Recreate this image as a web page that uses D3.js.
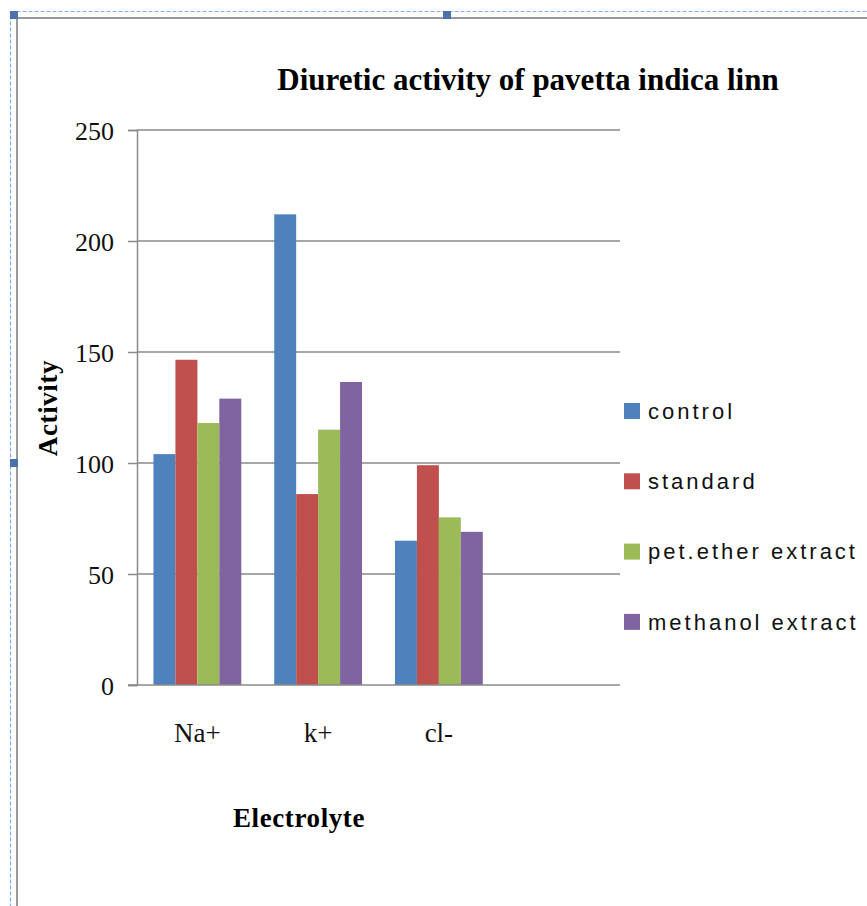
<!DOCTYPE html>
<html>
<head>
<meta charset="utf-8">
<script src="https://cdn.jsdelivr.net/npm/d3@7"></script>
<style>
  html, body { margin: 0; padding: 0; background: #fff; }
  svg { display: block; }
</style>
</head>
<body>
<div id="canvas"></div>
<script>
/*
Chart data */
var categories = ["Na+", "k+", "cl-"];
var series_names = ["control", "standard", "pet.ether extract", "methanol extract"];
var control = [104, 212, 65];
var standard = [146.5, 86, 99];
var pet_ether = [118, 115, 75.5];
var methanol = [129, 136.5, 69];
var y_ticks = [0, 50, 100, 150, 200, 250];

var colors = ["#4F81BD", "#C0504D", "#9BBB59", "#8064A2"];

function draw_chart() {
    var W = 867, H = 906;
    var m_left = 137, m_right = 620, m_top = 130, m_bottom = 685;

    var svg = d3.select("#canvas").append("svg")
        .attr("width", W).attr("height", H);

    // selection frame around the chart object
    svg.append("rect")
        .attr("x", 10.5).attr("y", 11.5).attr("width", W + 20).attr("height", H + 20)
        .attr("fill", "none").attr("stroke", "#82aef0").attr("stroke-width", 1.2)
        .attr("stroke-dasharray", "4,2");
    svg.append("rect")
        .attr("x", 17).attr("y", 18).attr("width", W + 20).attr("height", H + 20)
        .attr("fill", "none").attr("stroke", "#999").attr("stroke-width", 2);
    [[14, 15], [447, 15], [14, 463]].forEach(function(p) {
        svg.append("rect").attr("x", p[0] - 4).attr("y", p[1] - 4)
            .attr("width", 8).attr("height", 8).attr("fill", "#4a73ad");
    });

    // one spare empty slot on the right, like the original
    var x0 = d3.scaleBand().domain(categories.concat([" "])).range([m_left, m_right]);
    var x1 = d3.scaleBand().domain(series_names).range([0, x0.bandwidth()])
        .paddingInner(0).paddingOuter(0.75);
    var y = d3.scaleLinear().domain([0, 250]).range([m_bottom, m_top]);

    // gridlines
    svg.append("g").selectAll("line").data(y_ticks.slice(1)).join("line")
        .attr("x1", m_left).attr("x2", m_right)
        .attr("y1", function(d) { return y(d); }).attr("y2", function(d) { return y(d); })
        .attr("stroke", "#8a8a8a").attr("stroke-width", 1.5);

    // bars
    var table = [control, standard, pet_ether, methanol];
    table.forEach(function(vals, s) {
        svg.append("g").selectAll("rect").data(vals).join("rect")
            .attr("x", function(d, i) { return x0(categories[i]) + x1(series_names[s]); })
            .attr("width", x1.bandwidth())
            .attr("y", function(d) { return y(d); })
            .attr("height", function(d) { return y(0) - y(d); })
            .attr("fill", colors[s]);
    });

    // y axis
    var yAxis = svg.append("g").attr("transform", "translate(" + m_left + ",0)")
        .call(d3.axisLeft(y).tickValues(y_ticks).tickSize(9).tickPadding(14));
    yAxis.select(".domain").attr("stroke", "#8a8a8a").attr("stroke-width", 1.5);
    yAxis.selectAll(".tick line").attr("stroke", "#8a8a8a").attr("stroke-width", 1.5);
    yAxis.selectAll("text").attr("font-family", "Liberation Serif").attr("font-size", 26)
        .attr("fill", "#111").attr("dy", "0.35em");

    // x axis line
    svg.append("line").attr("x1", m_left - 9).attr("x2", m_right)
        .attr("y1", m_bottom).attr("y2", m_bottom)
        .attr("stroke", "#8a8a8a").attr("stroke-width", 1.5);

    // category labels
    svg.append("g").selectAll("text").data(categories).join("text")
        .attr("x", function(d) { return x0(d) + x0.bandwidth() / 2; })
        .attr("y", 742)
        .attr("text-anchor", "middle")
        .attr("font-family", "Liberation Serif").attr("font-size", 27).attr("fill", "#111")
        .text(function(d) { return d; });

    // title
    svg.append("text").attr("x", 528).attr("y", 90).attr("text-anchor", "middle")
        .attr("font-family", "Liberation Serif").attr("font-weight", "bold")
        .attr("font-size", 31).attr("fill", "#000")
        .text("Diuretic activity of pavetta indica linn");

    // axis titles
    svg.append("text").attr("x", 299).attr("y", 827).attr("text-anchor", "middle")
        .attr("font-family", "Liberation Serif").attr("font-weight", "bold")
        .attr("font-size", 27).attr("letter-spacing", 0.6).attr("fill", "#000")
        .text("Electrolyte");
    svg.append("text").attr("transform", "translate(57,408) rotate(-90)")
        .attr("text-anchor", "middle")
        .attr("font-family", "Liberation Serif").attr("font-weight", "bold")
        .attr("font-size", 27).attr("letter-spacing", 0.6).attr("fill", "#000")
        .text("Activity");

    // legend
    var legend = svg.append("g").selectAll("g").data(series_names).join("g")
        .attr("transform", function(d, i) { return "translate(624," + (411 + i * 70.3) + ")"; });
    legend.append("rect").attr("x", 0).attr("y", -8).attr("width", 16).attr("height", 16)
        .attr("fill", function(d, i) { return colors[i]; });
    legend.append("text").attr("x", 24).attr("y", 0).attr("dy", "0.35em")
        .attr("font-family", "Liberation Sans").attr("font-size", 22)
        .attr("letter-spacing", 3).attr("fill", "#111")
        .text(function(d) { return d; });
}

document.addEventListener('DOMContentLoaded', function() { draw_chart(); });
</script>
</body>
</html>
